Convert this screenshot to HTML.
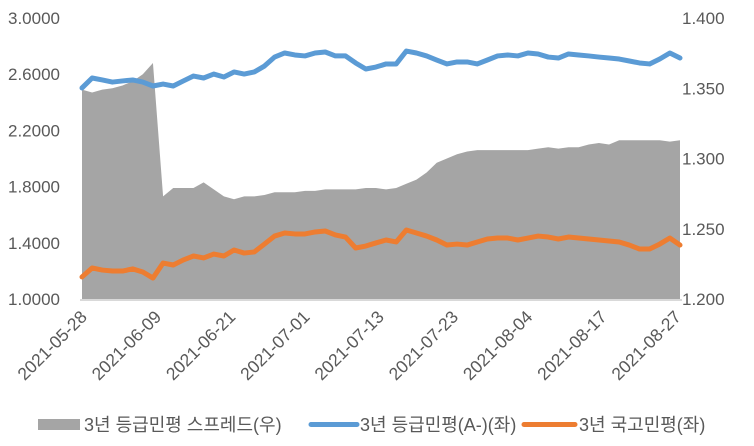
<!DOCTYPE html>
<html><head><meta charset="utf-8">
<style>
html,body{margin:0;padding:0;background:#fff;}
svg{display:block;font-family:"Liberation Sans","Noto Sans CJK KR",sans-serif;}
</style></head>
<body>
<svg id="chart" width="754" height="446" viewBox="0 0 754 446" xmlns="http://www.w3.org/2000/svg">
<g id="plot"></g>
<g id="axes"></g>
<g id="legend">
  <rect x="38" y="419" width="42" height="11" fill="#a5a5a5"/>
  <text x="84" y="431" font-size="18" fill="#595959">3년 등급민평 스프레드(우)</text>
  <line x1="311" y1="424.5" x2="357" y2="424.5" stroke="#5b9bd5" stroke-width="5" stroke-linecap="round"/>
  <text x="360" y="431" font-size="18" fill="#595959">3년 등급민평(A-)(좌)</text>
  <line x1="524" y1="424.5" x2="575" y2="424.5" stroke="#ed7d31" stroke-width="5" stroke-linecap="round"/>
  <text x="579" y="431" font-size="18" fill="#595959">3년 국고민평(좌)</text>
</g>
</svg>
<script>
const dateLabels = ["2021-05-28","2021-06-09","2021-06-21","2021-07-01","2021-07-13","2021-07-23","2021-08-04","2021-08-17","2021-08-27"];
const leftTicks = [1.0,1.4,1.8,2.2,2.6,3.0];
const rightTicks = [1.2,1.25,1.3,1.35,1.4];
const spreadRight = [1.349,1.347,1.349,1.350,1.352,1.355,1.360,1.368,1.273,1.279,1.279,1.279,1.283,1.278,1.273,1.271,1.273,1.273,1.274,1.276,1.276,1.276,1.277,1.277,1.278,1.278,1.278,1.278,1.279,1.279,1.278,1.279,1.282,1.285,1.290,1.297,1.300,1.303,1.305,1.306,1.306,1.306,1.306,1.306,1.306,1.307,1.308,1.307,1.308,1.308,1.310,1.311,1.310,1.313,1.313,1.313,1.313,1.313,1.312,1.313];
const aMinusLeft = [2.502,2.573,2.559,2.544,2.552,2.559,2.544,2.516,2.530,2.516,2.552,2.587,2.573,2.601,2.580,2.616,2.601,2.616,2.658,2.722,2.751,2.737,2.730,2.751,2.758,2.730,2.730,2.680,2.637,2.651,2.673,2.673,2.765,2.751,2.730,2.701,2.673,2.687,2.687,2.673,2.701,2.730,2.737,2.730,2.751,2.744,2.722,2.715,2.744,2.737,2.730,2.722,2.715,2.708,2.694,2.680,2.673,2.708,2.751,2.715];
const treasuryLeft = [1.157,1.221,1.206,1.199,1.199,1.214,1.192,1.149,1.256,1.242,1.278,1.306,1.292,1.320,1.306,1.349,1.327,1.335,1.391,1.448,1.470,1.463,1.463,1.477,1.484,1.456,1.441,1.363,1.377,1.399,1.420,1.406,1.491,1.470,1.448,1.420,1.384,1.391,1.384,1.406,1.427,1.434,1.434,1.420,1.434,1.448,1.441,1.427,1.441,1.434,1.427,1.420,1.413,1.406,1.384,1.356,1.356,1.391,1.434,1.384];

const X0=82, X1=680, YT=18, YB=299;
const n = aMinusLeft.length;
function xAt(i){ return X0 + (X1-X0)*i/(n-1); }
function yL(v){ return YB - (v-1.0)/(3.0-1.0)*(YB-YT); }
function yR(v){ return YB - (v-1.2)/(1.4-1.2)*(YB-YT); }
const NS="http://www.w3.org/2000/svg";
const plot=document.getElementById('plot'), axes=document.getElementById('axes');
function mk(tag, attrs, parent){ const e=document.createElementNS(NS,tag); for(const k in attrs) e.setAttribute(k,attrs[k]); parent.appendChild(e); return e; }

// area
let d = `M${xAt(0)},${YB}`;
spreadRight.forEach((v,i)=>{ d += ` L${xAt(i)},${yR(v)}`; });
d += ` L${xAt(spreadRight.length-1)},${YB} Z`;
const area = mk('path',{d:d,fill:'#a5a5a5'},plot);



// baseline
const base = mk('line',{x1:X0-2,y1:YB+1,x2:X1+2,y2:YB+1,stroke:'#d9d9d9','stroke-width':2},plot);



function line(arr, color, name){
  const p = arr.map((v,i)=>`${xAt(i)},${yL(v)}`).join(' ');
  const e = mk('polyline',{points:p,fill:'none',stroke:color,'stroke-width':5,'stroke-linejoin':'round','stroke-linecap':'round'},plot);
  
  
}
line(aMinusLeft,'#5b9bd5','a-minus-line');
line(treasuryLeft,'#ed7d31','treasury-line');

leftTicks.forEach(v=>{
  const t = mk('text',{x:60,y:yL(v)+6,'text-anchor':'end','font-size':17,fill:'#595959'},axes);
  t.textContent = v.toFixed(4);
  
  
});
rightTicks.forEach(v=>{
  const t = mk('text',{x:682,y:yR(v)+6,'font-size':17,fill:'#595959'},axes);
  t.textContent = v.toFixed(3);
  
  
});
dateLabels.forEach((lab,k)=>{
  const x = 88 + k*(682-88)/(dateLabels.length-1), y = 318;
  const t = mk('text',{x:x,y:y,'text-anchor':'end','font-size':17.5,fill:'#595959',transform:`rotate(-45 ${x} ${y})`},axes);
  t.textContent = lab;
  
  
});
</script>
</body></html>
